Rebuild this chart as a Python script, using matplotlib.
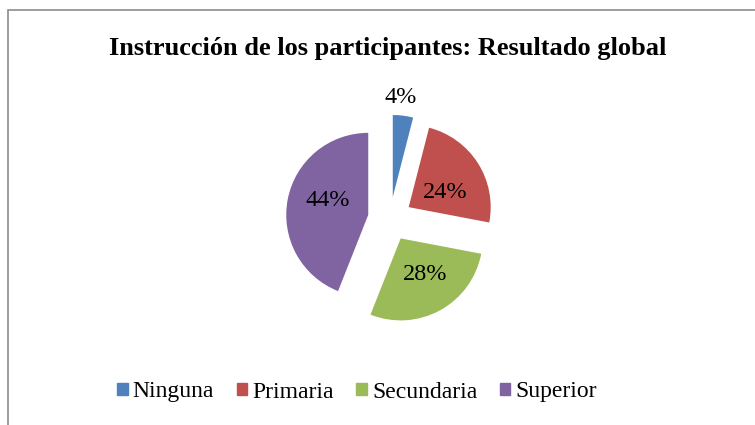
import matplotlib.pyplot as plt
import numpy as np
from matplotlib.patches import Patch, Rectangle

categories = ["Ninguna", "Primaria", "Secundaria", "Superior"]
values = [4, 24, 28, 44]
colors = ["#4F81BD", "#C0504D", "#9BBB59", "#8064A2"]
title = "Instrucción de los participantes: Resultado global"

plt.rcParams['font.family'] = ['Liberation Serif', 'DejaVu Serif']

W, H = 755, 425
fig = plt.figure(figsize=(W / 100, H / 100), dpi=100)

# frame around the chart (cut at right/bottom like the reference)
fig.patches.append(Rectangle((7.5 / W, -0.1), 1.2, 1 - 10.5 / H + 0.1,
                             transform=fig.transFigure, fill=False,
                             edgecolor="#8c8c8c", linewidth=1.2))

ax = fig.add_axes([0, 0, 1, 1])
explode = [0.27] * len(values)
wedges, texts, autotexts = ax.pie(values, colors=colors, explode=explode,
                                  startangle=90, counterclock=False,
                                  autopct="%1.0f%%", pctdistance=0.52,
                                  textprops=dict(fontsize=17.5, color="black"))

# pie radius 82 px, centre at (390, 219) px from top-left
r = 82
cx, cy = 390, 219

# label placement: radial distance (in radii) plus a small nudge in px
label_dist = [1.22, 0.52, 0.52, 0.52]
label_nudge = [(-5, 0), (0, -8), (4, 1), (1, 6)]
for w, t, e, d, (nx, ny) in zip(wedges, autotexts, explode, label_dist, label_nudge):
    ang = np.deg2rad((w.theta1 + w.theta2) / 2)
    t.set_position(((e + d) * np.cos(ang) + nx / r, (e + d) * np.sin(ang) + ny / r))

ax.set_xlim(-cx / r, (W - cx) / r)
ax.set_ylim(-(H - cy) / r, cy / r)
ax.set_aspect('auto')
ax.axis('off')

fig.text(388 / W, 1 - 48 / H, title, ha="center", va="center",
         fontsize=19, fontweight="bold")

handles = [Patch(facecolor=c, edgecolor=c) for c in colors]
fig.legend(handles, categories, loc="center", bbox_to_anchor=(357 / W, 1 - 392 / H),
           ncol=4, frameon=False, fontsize=17, handlelength=0.45, handleheight=0.45,
           handletextpad=0.22, columnspacing=0.95)

fig.savefig("out.png", dpi=100)
